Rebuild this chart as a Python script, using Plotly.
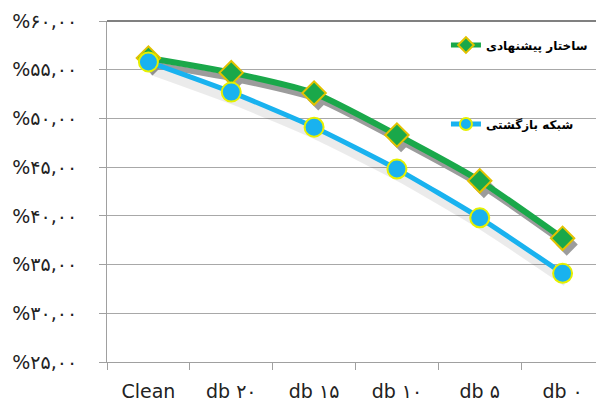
import plotly.graph_objects as go

categories = ["Clean", "db ۲۰", "db ۱۵", "db ۱۰", "db ۵", "db ۰"]
proposed = [56.2, 54.7, 52.6, 48.3, 43.6, 37.7]
recurrent = [55.8, 52.7, 49.1, 44.8, 39.8, 34.1]
name_proposed = "ساختار پیشنهادی"
name_recurrent = "شبکه بازگشتی"
tick_vals = [25, 30, 35, 40, 45, 50, 55, 60]
tick_text = ["%۲۵,۰۰", "%۳۰,۰۰", "%۳۵,۰۰", "%۴۰,۰۰", "%۴۵,۰۰", "%۵۰,۰۰", "%۵۵,۰۰", "%۶۰,۰۰"]

GREEN = "#1aa84a"
BLUE = "#19b2ef"
YR = [25, 60]
XR = [-0.5, 5.5]

fig = go.Figure()

# base subplot: carries the visible axes (transparent trace)
fig.add_trace(go.Scatter(x=categories, y=recurrent, mode="lines",
                         line=dict(color="rgba(0,0,0,0)", width=1),
                         showlegend=False, hoverinfo="skip"))

# shadows (same data on slightly shifted overlaid axes)
fig.add_trace(go.Scatter(x=categories, y=recurrent, mode="lines", xaxis="x2", yaxis="y4",
                         line=dict(color="rgba(0,0,0,0.08)", width=11, shape="spline", smoothing=0.6),
                         showlegend=False, hoverinfo="skip"))
fig.add_trace(go.Scatter(x=categories, y=proposed, mode="lines+markers", xaxis="x2", yaxis="y2",
                         line=dict(color="#9c9c9c", width=6, shape="spline", smoothing=0.6),
                         marker=dict(symbol="diamond", size=17, color="#9c9c9c"),
                         showlegend=False, hoverinfo="skip"))

# main series
fig.add_trace(go.Scatter(x=categories, y=proposed, mode="lines+markers", name=name_proposed,
                         legendgroup="a", xaxis="x3", yaxis="y3",
                         line=dict(color=GREEN, width=6, shape="spline", smoothing=0.6),
                         marker=dict(symbol="diamond", size=18, color=GREEN,
                                     line=dict(color="#e2c200", width=2))))
fig.add_trace(go.Scatter(x=categories, y=recurrent, mode="lines+markers", name=name_recurrent,
                         legendgroup="b", xaxis="x3", yaxis="y3",
                         line=dict(color=BLUE, width=5, shape="spline", smoothing=0.6),
                         marker=dict(symbol="circle", size=19, color=BLUE,
                                     line=dict(color="#e6f000", width=2))))

dx = 0.05
dy = 0.65
fig.update_layout(
    width=596, height=393,
    margin=dict(l=99, r=0, t=13, b=39),
    paper_bgcolor="white", plot_bgcolor="white",
    font=dict(family="DejaVu Sans", color="#222"),
    xaxis=dict(type="category", categoryorder="array", categoryarray=categories, range=XR,
               showgrid=False, showline=True, linecolor="#a0a0a0", linewidth=1,
               ticks="outside", tickson="boundaries", ticklen=7, tickcolor="#a0a0a0",
               ticklabelstandoff=12,
               tickfont=dict(size=19, color="#222"), zeroline=False),
    yaxis=dict(range=YR, tickvals=tick_vals, ticktext=tick_text,
               showgrid=True, gridcolor="#a8a8a8", gridwidth=1,
               showline=True, linecolor="#a0a0a0", linewidth=1,
               ticks="outside", ticklen=7, tickcolor="#a0a0a0",
               ticklabelstandoff=18,
               tickfont=dict(size=19, color="#222"), zeroline=False),
    xaxis2=dict(type="category", categoryorder="array", categoryarray=categories, overlaying="x",
                range=[XR[0] - dx, XR[1] - dx], visible=False),
    yaxis2=dict(overlaying="y", range=[YR[0] + dy, YR[1] + dy], visible=False),
    yaxis4=dict(overlaying="y", range=[YR[0] + 0.8, YR[1] + 0.8], visible=False),
    xaxis3=dict(type="category", categoryorder="array", categoryarray=categories, overlaying="x",
                range=XR, visible=False),
    yaxis3=dict(overlaying="y", range=YR, visible=False),
    legend=dict(x=0.682, y=0.972, xanchor="left", yanchor="top",
                bgcolor="rgba(0,0,0,0)", tracegroupgap=60,
                font=dict(size=12, color="#000", weight="bold"),
                itemsizing="constant"),
    showlegend=True,
)
fig.add_shape(type="line", xref="paper", yref="paper", x0=0, x1=1, y0=1, y1=1,
              line=dict(color="#808080", width=2))

fig.write_html("out.html")
